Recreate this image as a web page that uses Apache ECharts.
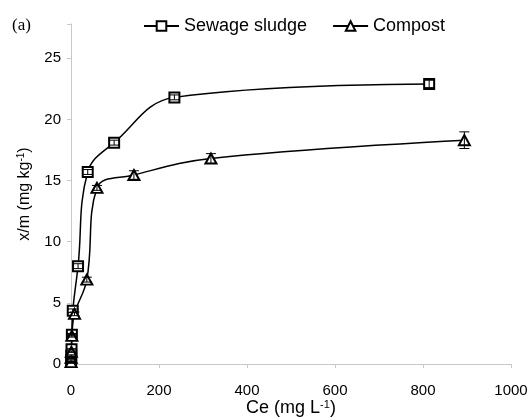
<!DOCTYPE html>
<html>
<head>
<meta charset="utf-8">
<script src="https://cdn.jsdelivr.net/npm/echarts@6/dist/echarts.min.js"></script>
<style>
html,body{margin:0;padding:0;background:#fff;}
#chart{width:530px;height:420px;}
</style>
</head>
<body>
<div id="chart"></div>
<script>
// Data
var sewageCe  = [0.3, 0.6, 1.2, 2, 4, 16, 38, 98, 235, 814];
var sewageXm  = [0.3, 0.7, 1.2, 2.4, 4.35, 8.0, 15.7, 18.1, 21.8, 22.9];
var sewageErr = [0.05, 0.05, 0.05, 0.1, 0.15, 0.2, 0.2, 0.2, 0.2, 0.3];
var compostCe  = [0.2, 0.4, 0.8, 2, 8, 36, 59, 143, 318, 894];
var compostXm  = [0.15, 0.5, 1.0, 2.3, 4.1, 6.9, 14.4, 15.45, 16.8, 18.3];
var compostErr = [0.05, 0.05, 0.05, 0.1, 0.15, 0.2, 0.2, 0.35, 0.4, 0.68];
var xTicks = [0, 200, 400, 600, 800, 1000];
var yTicks = [0, 5, 10, 15, 20, 25];

function pairs(xs, ys) { return xs.map(function (x, i) { return [x, ys[i]]; }); }
function triples(xs, ys, es) { return xs.map(function (x, i) { return [x, ys[i], es[i]]; }); }

function errRender(params, api) {
  var x = api.value(0), y = api.value(1), e = api.value(2);
  var top = api.coord([x, y + e]);
  var bot = api.coord([x, y - e]);
  var hw = 5;
  var st = { stroke: '#000', lineWidth: 1 };
  return {
    type: 'group',
    children: [
      { type: 'line', shape: { x1: top[0], y1: top[1], x2: bot[0], y2: bot[1] }, style: st },
      { type: 'line', shape: { x1: top[0] - hw, y1: top[1], x2: top[0] + hw, y2: top[1] }, style: st },
      { type: 'line', shape: { x1: bot[0] - hw, y1: bot[1], x2: bot[0] + hw, y2: bot[1] }, style: st }
    ]
  };
}

var chart = echarts.init(document.getElementById('chart'), null, { renderer: 'canvas' });
var font = 'Liberation Sans, Arial, sans-serif';
chart.setOption({
  animation: false,
  backgroundColor: '#fff',
  textStyle: { fontFamily: font, color: '#000' },
  graphic: [{
    type: 'text', left: 12, top: 17,
    style: { text: '(a)', font: '17px "Liberation Serif", "Times New Roman", serif', fill: '#000' }
  }],
  legend: {
    left: 138, top: 12,
    itemWidth: 35, itemHeight: 12, itemGap: 25,
    textStyle: { fontSize: 18, color: '#000', fontFamily: font },
    data: ['Sewage sludge', 'Compost']
  },
  grid: { left: 71, right: 19, top: 24, bottom: 56, containLabel: false, outerBoundsMode: 'none' },
  xAxis: {
    type: 'value', min: xTicks[0], max: xTicks[xTicks.length - 1], interval: 200,
    name: 'Ce (mg L{sup|-1})', nameLocation: 'middle', nameGap: 35, nameMoveOverlap: false,
    nameTextStyle: { fontSize: 18, color: '#000', fontFamily: font,
      rich: { sup: { fontSize: 11, verticalAlign: 'top', padding: [0, 0, 8, 0], fontFamily: font } } },
    axisLine: { lineStyle: { color: '#c8c8c8', width: 1 } },
    axisTick: { show: true, length: 4, inside: false, lineStyle: { color: '#c8c8c8' } },
    axisLabel: { fontSize: 15, color: '#000', margin: 19, fontFamily: font,
      formatter: function (v) { return String(v); } },
    splitLine: { show: false }
  },
  yAxis: {
    type: 'value', min: yTicks[0], max: 27.8, interval: 5,
    name: 'x/m (mg kg{sup|-1})', nameLocation: 'middle', nameGap: 38, nameMoveOverlap: false,
    nameTextStyle: { fontSize: 16, color: '#000', fontFamily: font,
      rich: { sup: { fontSize: 10, verticalAlign: 'top', padding: [0, 0, 7, 0], fontFamily: font } } },
    axisLine: { show: true, lineStyle: { color: '#c8c8c8', width: 1 } },
    axisTick: { show: true, length: 4, lineStyle: { color: '#c8c8c8' } },
    axisLabel: { fontSize: 15, color: '#000', margin: 10, fontFamily: font,
      formatter: function (v) { return yTicks.indexOf(v) >= 0 ? String(v) : ''; } },
    splitLine: { show: false }
  },
  series: [
    {
      name: 'Sewage sludge', type: 'line', data: pairs(sewageCe, sewageXm),
      smooth: 0.4, symbol: 'emptyRect', symbolSize: 10,
      itemStyle: { color: '#000', borderWidth: 1 },
      lineStyle: { color: '#000', width: 1.5 }, z: 3
    },
    {
      name: 'Compost', type: 'line', data: pairs(compostCe, compostXm),
      smooth: 0.4, symbol: 'emptyTriangle', symbolSize: [11, 10],
      itemStyle: { color: '#000', borderWidth: 1 },
      lineStyle: { color: '#000', width: 1.5 }, z: 3
    },
    { type: 'custom', renderItem: errRender, data: triples(sewageCe, sewageXm, sewageErr), z: 4, silent: true },
    { type: 'custom', renderItem: errRender, data: triples(compostCe, compostXm, compostErr), z: 4, silent: true }
  ]
});
</script>
</body>
</html>
